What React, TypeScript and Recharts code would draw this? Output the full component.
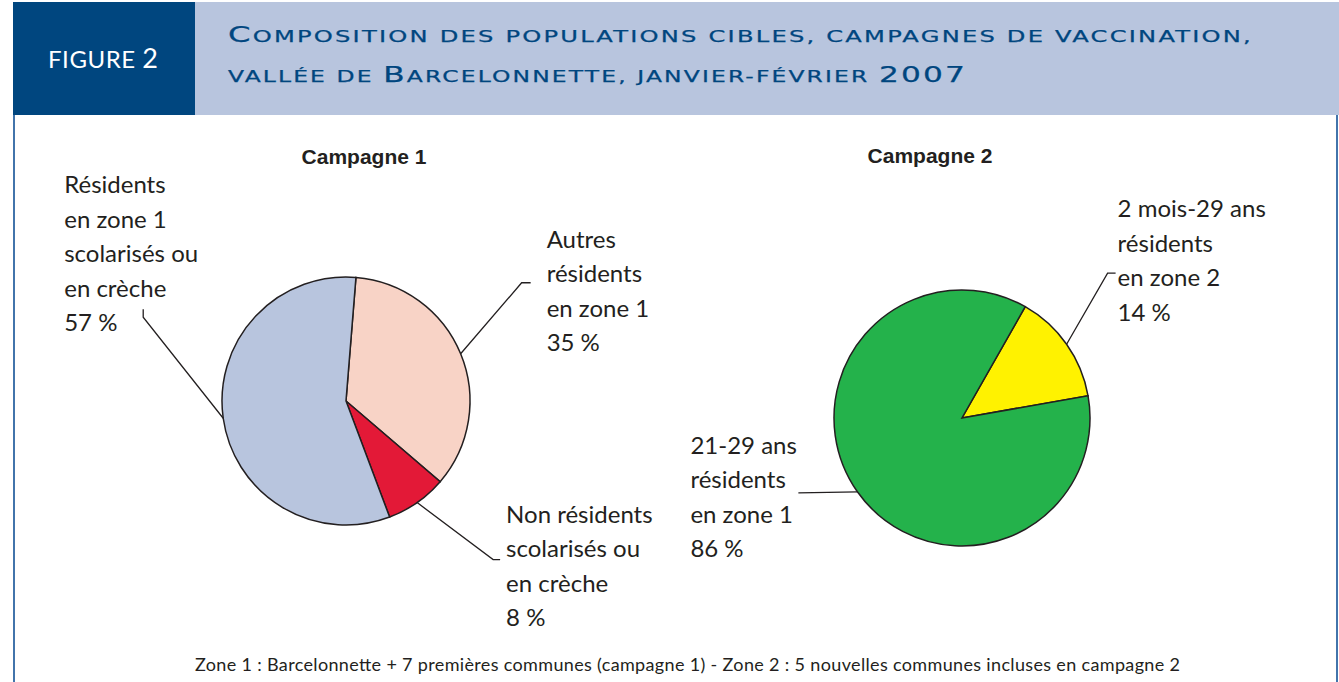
import { PieChart, Pie, Cell } from "recharts"

// Campagne 1
const campaign1Names = [
  "Autres résidents en zone 1",
  "Non résidents scolarisés ou en crèche",
  "Résidents en zone 1 scolarisés ou en crèche",
]
const campaign1Values = [35, 8, 57]
const campaign1Lines = [
  ["Autres", "résidents", "en zone 1"],
  ["Non résidents", "scolarisés ou", "en crèche"],
  ["Résidents", "en zone 1", "scolarisés ou", "en crèche"],
]
const campaign1Colors = ["#f8d3c6", "#e31937", "#b8c5de"]

// Campagne 2
const campaign2Names = ["2 mois-29 ans résidents en zone 2", "21-29 ans résidents en zone 1"]
const campaign2Values = [14, 86]
const campaign2Lines = [
  ["2 mois-29 ans", "résidents", "en zone 2"],
  ["21-29 ans", "résidents", "en zone 1"],
]
const campaign2Colors = ["#fff200", "#24b24b"]

const campaign1Data = campaign1Names.map((name, i) => ({ name, value: campaign1Values[i] }))
const campaign2Data = campaign2Names.map((name, i) => ({ name, value: campaign2Values[i] }))

const titleLines = [
  "Composition des populations cibles, campagnes de vaccination,",
  "vallée de Barcelonnette, janvier-février 2007",
]
const footnote =
  "Zone 1 : Barcelonnette + 7 premières communes (campagne 1) - Zone 2 : 5 nouvelles communes incluses en campagne 2"

// leader line elbows / text offsets (relative to the slice edge point)
type LabelLayout = { elbow: [number, number]; tick: [number, number]; text: [number, number] }
const layout1: LabelLayout[] = [
  { elbow: [61, -71], tick: [9, 0], text: [25, -35] },
  { elbow: [76, 57], tick: [7, 0], text: [13, -37] },
  { elbow: [-80, -101], tick: [0, -8], text: [-79, -124] },
]
const layout2: LabelLayout[] = [
  { elbow: [41, -71], tick: [8, 0], text: [10, -56] },
  { elbow: [-59, 1], tick: [0, 0], text: [-108, -39] },
]

const RADIAN = Math.PI / 180
const LABEL_FONT = "Lato, 'Open Sans', sans-serif"
const TITLE_FONT = "'DejaVu Sans', Verdana, sans-serif"
const INK = "#231f20"
const NAVY = "#00467f"

// split into runs of real capitals / small caps
function smallCaps(s: string, big: number, small: number) {
  const runs: { t: string; big: boolean }[] = []
  for (const ch of s) {
    const isBig = (ch === ch.toUpperCase() && ch !== ch.toLowerCase()) || /[0-9]/.test(ch)
    const last = runs[runs.length - 1]
    if (last && last.big === isBig) last.t += ch
    else runs.push({ t: ch, big: isBig })
  }
  return runs.map((r, i) => (
    <tspan key={i} style={{ fontSize: r.big ? big : small }}>
      {r.t.toUpperCase()}
    </tspan>
  ))
}

const makeLabel = (lines: string[][], values: number[], layouts: LabelLayout[]) => (props: any) => {
  const { cx, cy, midAngle, outerRadius, index } = props
  const ex = cx + outerRadius * Math.cos(-midAngle * RADIAN)
  const ey = cy + outerRadius * Math.sin(-midAngle * RADIAN)
  const l = layouts[index]
  const bx = ex + l.elbow[0]
  const by = ey + l.elbow[1]
  const tx = bx + l.tick[0]
  const ty = by + l.tick[1]
  const text = [...lines[index], `${values[index]} %`]
  return (
    <g key={`lbl-${index}`}>
      <polyline points={`${ex},${ey} ${bx},${by} ${tx},${ty}`} fill="none" stroke={INK} strokeWidth={1.3} />
      <text x={bx + l.text[0]} y={by + l.text[1]} fill={INK} fontSize={24} fontFamily={LABEL_FONT}>
        {text.map((t, i) => (
          <tspan key={i} x={bx + l.text[0]} dy={i === 0 ? 0 : 34.5}>
            {t}
          </tspan>
        ))}
      </text>
    </g>
  )
}

export default function App() {
  return (
    <div style={{ position: "absolute", left: 0, top: 0, width: 1339, height: 682, background: "#fff", overflow: "hidden" }}>
      {/* header */}
      <div style={{ position: "absolute", left: 13, top: 2, width: 182, height: 113, background: NAVY }} />
      <div style={{ position: "absolute", left: 195, top: 2, width: 1144, height: 113, background: "#b8c5de" }} />
      <div style={{ position: "absolute", left: 13, top: 115, width: 2, height: 567, background: "#4274ab" }} />
      <div style={{ position: "absolute", left: 1336, top: 115, width: 2, height: 567, background: "#4274ab" }} />
      <svg width={1339} height={120} style={{ position: "absolute", left: 0, top: 0 }}>
        <text x={48} y={68} fill="#fff" fontFamily={LABEL_FONT} fontSize={24} textLength={110} lengthAdjust="spacing">
          FIGURE <tspan fontSize={27}>2</tspan>
        </text>
        <text
          x={228}
          y={42}
          fill={NAVY}
          stroke={NAVY}
          strokeWidth={0.25}
          letterSpacing={1.5}
          style={{ fontFamily: TITLE_FONT }}
          textLength={1025}
          lengthAdjust="spacingAndGlyphs"
        >
          {smallCaps(titleLines[0], 22, 16.5)}
        </text>
        <text
          x={228}
          y={82}
          fill={NAVY}
          stroke={NAVY}
          strokeWidth={0.25}
          letterSpacing={1.5}
          style={{ fontFamily: TITLE_FONT }}
          textLength={739}
          lengthAdjust="spacingAndGlyphs"
        >
          {smallCaps(titleLines[1], 22, 16.5)}
        </text>
      </svg>

      <div style={{ position: "absolute", left: 0, top: 0 }}>
        <PieChart width={1339} height={682} margin={{ top: 0, right: 0, bottom: 0, left: 0 }}>
          <text x={364} y={164} textAnchor="middle" fill={INK} fontFamily="'Liberation Sans', Arial, sans-serif" fontWeight="bold" fontSize={21}>
            Campagne 1
          </text>
          <text x={930} y={163} textAnchor="middle" fill={INK} fontFamily="'Liberation Sans', Arial, sans-serif" fontWeight="bold" fontSize={21}>
            Campagne 2
          </text>
          <Pie
            data={campaign1Data}
            dataKey="value"
            nameKey="name"
            cx={346}
            cy={401}
            outerRadius={124}
            startAngle={85.4}
            endAngle={85.4 - 360}
            stroke={INK}
            strokeWidth={1.5}
            labelLine={false}
            label={makeLabel(campaign1Lines, campaign1Values, layout1)}
            isAnimationActive={false}
          >
            {campaign1Data.map((entry, index) => (
              <Cell key={`c1-${index}`} fill={campaign1Colors[index]} />
            ))}
          </Pie>
          <Pie
            data={campaign2Data}
            dataKey="value"
            nameKey="name"
            cx={962}
            cy={418}
            outerRadius={128}
            startAngle={60.4}
            endAngle={60.4 - 360}
            stroke={INK}
            strokeWidth={1.5}
            labelLine={false}
            label={makeLabel(campaign2Lines, campaign2Values, layout2)}
            isAnimationActive={false}
          >
            {campaign2Data.map((entry, index) => (
              <Cell key={`c2-${index}`} fill={campaign2Colors[index]} />
            ))}
          </Pie>
        </PieChart>
      </div>

      <svg width={1339} height={682} style={{ position: "absolute", left: 0, top: 0, pointerEvents: "none" }}>
        <text x={195} y={671} fill={INK} fontFamily={LABEL_FONT} fontSize={18} textLength={985} lengthAdjust="spacing">
          {footnote}
        </text>
      </svg>
    </div>
  )
}
